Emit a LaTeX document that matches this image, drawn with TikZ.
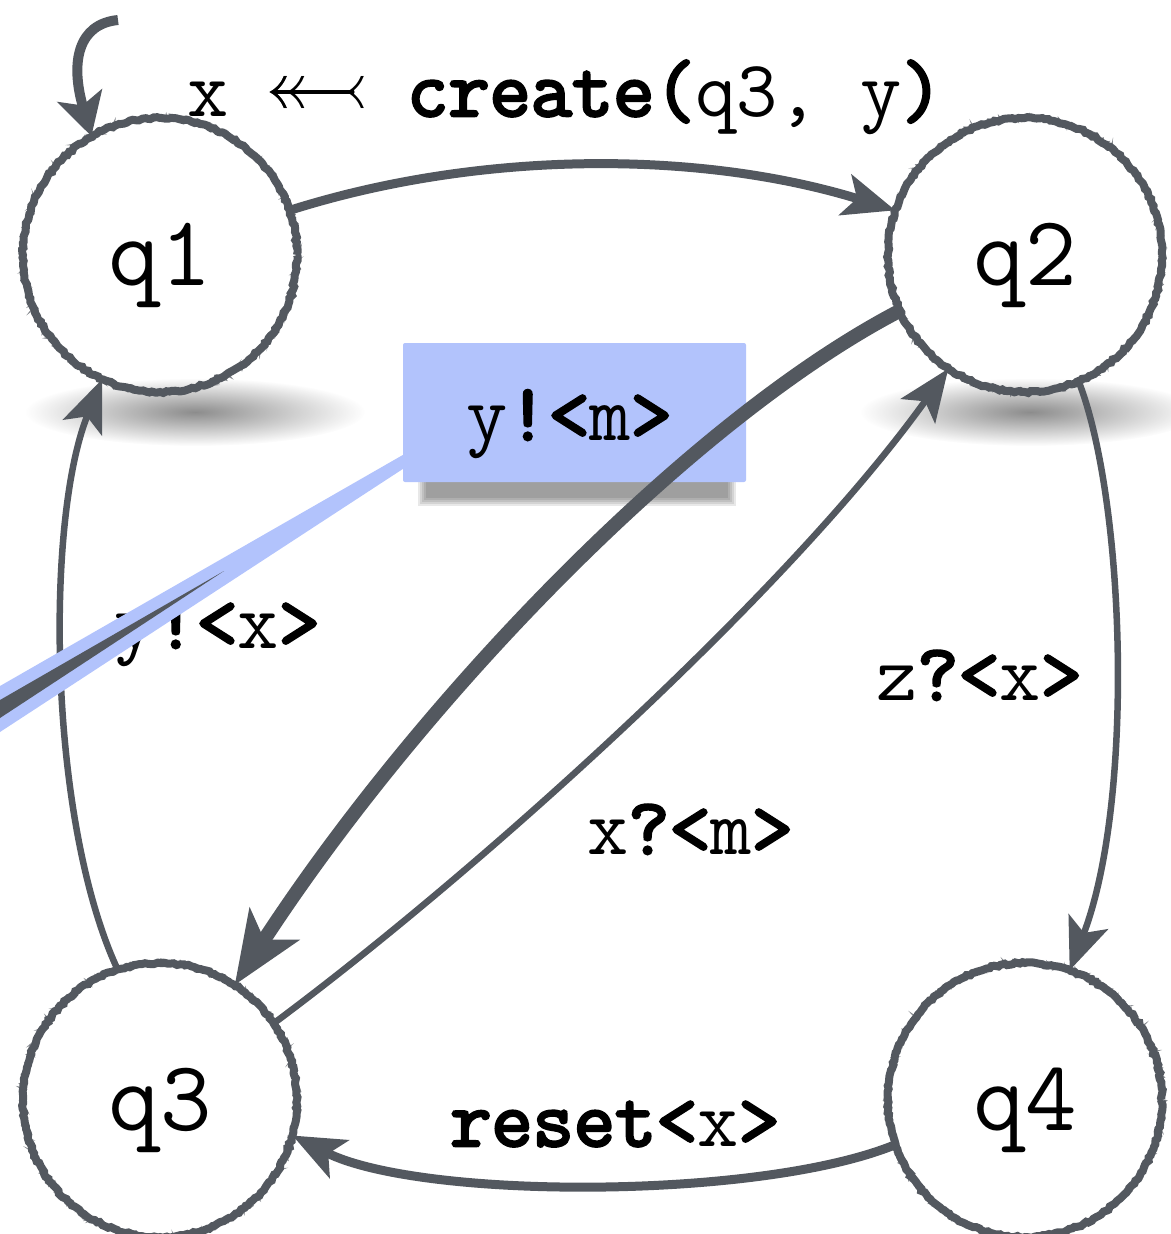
\documentclass[tikz,border=0pt]{standalone}
\usepackage{amssymb}
\usepackage{graphicx}
\usepackage{fontspec}
\setmonofont{Latin Modern Mono}[BoldFont={Latin Modern Mono}, BoldFeatures={FakeBold=3.5}]
\usetikzlibrary{arrows.meta,decorations.pathmorphing,fadings}
\definecolor{edge}{HTML}{53585F}
\definecolor{note}{HTML}{B2C3FC}
\tikzfading[name=softfade, inner color=transparent!0, outer color=transparent!100]
\newcommand\statefont{\ttfamily\fontsize{100}{110}\selectfont}
\newcommand\lblfont{\ttfamily\fontsize{80}{90}\selectfont}
\tikzset{
  state/.style={circle, minimum size=274pt, inner sep=0pt, font=\statefont,
    text height=60pt, text depth=0pt},
  sketch/.style={draw=edge, line width=8pt, decorate,
    decoration={random steps, segment length=3pt, amplitude=1pt}},
  sketchb/.style={draw=edge, line width=1.6pt, opacity=0.7, decorate,
    decoration={random steps, segment length=2pt, amplitude=3pt}},
  trans/.style={draw=edge, line width=#1,
    -{Stealth[length=52pt, width=42pt, inset=12pt]}},
  thicktrans/.style={draw=edge, line width=14pt,
    -{Stealth[length=72pt, width=58pt, inset=18pt]}},
  lbl/.style={font=\lblfont, inner sep=0pt, anchor=base},
  notebox/.style={fill=note, minimum width=343pt, minimum height=139pt,
    inner sep=0pt, rounded corners=2pt},
}
\begin{document}
\begin{tikzpicture}[x=1pt,y=-1pt]
\useasboundingbox (0,0) rectangle (1170,1234);
% soft background band and shadows
\shade[top color=white, middle color=black!6, bottom color=white] (0,350) rectangle (1170,480);
\fill[black, opacity=0.45, path fading=softfade] (195,412) ellipse [x radius=170pt, y radius=34pt];
\fill[black, opacity=0.45, path fading=softfade] (1030,412) ellipse [x radius=170pt, y radius=34pt];

% states
\node[state] (q1) at (160,255) {q1};
\node[state] (q2) at (1025,255) {q2};
\node[state] (q3) at (160,1100) {q3};
\node[state] (q4) at (1025,1100) {q4};
\foreach \q in {q1,q2,q3,q4}{
  \draw[sketch] (\q.center) circle[radius=137pt];
  \draw[sketchb] (\q.center) circle[radius=138pt];
}

% initial arrow
\coordinate (init) at (118,20);
\draw[draw=edge, line width=10pt, -{Stealth[length=42pt, width=46pt, inset=10pt]}]
  (init) .. controls (78,24) and (70,62) .. (q1.120);

% transitions
\draw[trans=9pt] (q1.19) .. controls (480,150) and (700,150) .. (q2.161);
\draw[trans=6.5pt] (q3.108) .. controls (48,820) and (45,520) .. (q1.245);
\draw[trans=6.5pt] (q3.34) .. controls (480,870) and (790,590) .. (q2.236);
\draw[trans=6.5pt] (q2.293) .. controls (1125,500) and (1135,800) .. (q4.71);
\draw[trans=9pt] (q4.199) .. controls (760,1200) and (420,1200) .. (q3.345);

% labels
\node[lbl] (lcreate) at (565,116) {x\hspace{0.45em}\scalebox{1.2}{\rlap{$\twoheadleftarrow$}$\leftarrowtail$}\hspace{0.45em}\textbf{create(}q3, y\textbf{)}};
\node[lbl] (lyx) at (217,648) {y\textbf{!<}x\textbf{>}};
\node[lbl] (lzx) at (979,700) {z\textbf{?<}x\textbf{>}};
\node[lbl] (lxm) at (690,854) {x\textbf{?<}m\textbf{>}};
\node[lbl] (lreset) at (615,1146) {\textbf{reset<}x\textbf{>}};

% note
\foreach \d in {0,2,4,6,8}{
  \fill[black, opacity=0.09] (418+\d,474) rectangle (736-\d,506-\d);
}
\node[notebox] (note) at (574.5,412.5) {};
\node[lbl] (lym) at (569,440) {y\textbf{!<}m\textbf{>}};
\draw[thicktrans] (q2.204) .. controls (690,420) and (420,700) .. (q3.57);
\fill[note] (note.west |- 0,455) -- (0,686) -- (0,732) -- (note.west |- 0,469) -- cycle;
\fill[edge] (224,571) -- (0,700) -- (0,718) -- cycle;
\end{tikzpicture}
\end{document}
